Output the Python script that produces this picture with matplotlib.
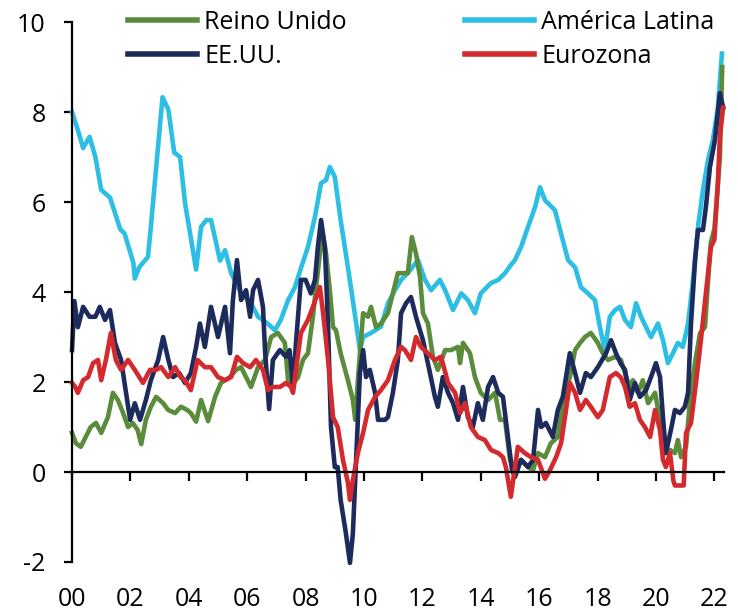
import matplotlib
matplotlib.use('Agg')
from matplotlib import pyplot as plt

plt.rcParams['font.family'] = ['Open Sans', 'DejaVu Sans']
plt.rcParams['axes.unicode_minus'] = False

# Inflación (% a/a)
uk_x = [2000.0, 2000.13, 2000.3, 2000.47, 2000.64, 2000.82, 2001.0, 2001.23, 2001.4, 2001.57,
        2001.75, 2001.92, 2002.08, 2002.25, 2002.37, 2002.53, 2002.7, 2002.88, 2003.12, 2003.29,
        2003.53, 2003.73, 2003.94, 2004.07, 2004.25, 2004.42, 2004.66, 2004.9, 2005.1, 2005.41,
        2005.62, 2005.79, 2005.96, 2006.13, 2006.37, 2006.61, 2006.82, 2007.05, 2007.29, 2007.4,
        2007.5, 2007.74, 2007.91, 2008.08, 2008.25, 2008.36, 2008.49, 2008.6, 2008.7, 2008.84,
        2008.94, 2009.04, 2009.2, 2009.45, 2009.62, 2009.7, 2009.79, 2009.97, 2010.14, 2010.24,
        2010.41, 2010.58, 2010.82, 2010.99, 2011.16, 2011.33, 2011.5, 2011.64, 2011.78, 2011.92,
        2012.02, 2012.19, 2012.36, 2012.53, 2012.78, 2012.98, 2013.22, 2013.29, 2013.39, 2013.63,
        2013.8, 2014.0, 2014.25, 2014.49, 2014.66, 2014.83, 2015.0, 2015.17, 2015.38, 2015.62,
        2015.79, 2015.96, 2016.2, 2016.4, 2016.64, 2016.88, 2017.05, 2017.23, 2017.4, 2017.57,
        2017.77, 2018.01, 2018.18, 2018.36, 2018.6, 2018.8, 2018.94, 2019.1, 2019.21, 2019.38,
        2019.55, 2019.73, 2019.97, 2020.14, 2020.31, 2020.48, 2020.65, 2020.75, 2020.86, 2021.03,
        2021.2, 2021.37, 2021.51, 2021.68, 2021.78, 2021.88, 2022.0, 2022.1, 2022.19, 2022.27]
uk_y = [0.87, 0.64, 0.56, 0.78, 1.0, 1.09, 0.87, 1.22, 1.76, 1.6,
        1.31, 1.0, 1.09, 0.93, 0.62, 1.16, 1.45, 1.67, 1.53, 1.38,
        1.31, 1.45, 1.38, 1.31, 1.12, 1.6, 1.13, 1.67, 1.98, 2.11,
        2.27, 2.33, 2.11, 1.89, 2.33, 2.49, 3.0, 3.09, 2.87, 2.04,
        1.89, 2.11, 2.49, 2.64, 3.45, 4.11, 4.86, 5.22, 4.86, 3.97,
        3.22, 3.15, 2.64, 2.04, 1.6, 1.16, 2.04, 3.53, 3.45, 3.67,
        3.22, 3.3, 3.53, 3.97, 4.42, 4.42, 4.42, 5.22, 4.86, 4.33,
        3.53, 3.3, 2.56, 2.27, 2.71, 2.71, 2.78, 2.42, 2.87, 2.64,
        2.11, 1.76, 1.6, 1.76, 1.16, 1.16, 0.27, 0.04, 0.27, 0.11,
        0.04, 0.42, 0.33, 0.64, 0.78, 1.76, 2.11, 2.71, 2.87, 3.0,
        3.09, 2.87, 2.64, 2.49, 2.56, 2.49, 2.2, 1.89, 2.04, 1.76,
        2.04, 1.53, 1.76, 1.16, 0.42, 0.49, 0.42, 0.71, 0.33, 0.56,
        1.82, 2.56, 3.09, 3.22, 4.2, 5.1, 5.4, 6.2, 7.0, 9.0]

latam_x = [2000.0, 2000.2, 2000.38, 2000.6, 2000.8, 2001.0, 2001.3, 2001.65, 2001.8, 2002.1,
           2002.15, 2002.3, 2002.6, 2002.7, 2002.9, 2003.1, 2003.3, 2003.5, 2003.7, 2003.87,
           2004.07, 2004.25, 2004.42, 2004.6, 2004.76, 2005.07, 2005.24, 2005.45, 2005.8, 2006.13,
           2006.37, 2006.7, 2006.95, 2007.15, 2007.4, 2007.63, 2007.85, 2008.08, 2008.32, 2008.53,
           2008.7, 2008.83, 2009.0, 2009.2, 2009.45, 2009.7, 2009.86, 2009.97, 2010.24, 2010.58,
           2010.82, 2011.06, 2011.27, 2011.5, 2011.85, 2012.09, 2012.3, 2012.6, 2012.78, 2013.05,
           2013.33, 2013.56, 2013.8, 2014.0, 2014.35, 2014.6, 2014.83, 2015.03, 2015.17, 2015.38,
           2015.62, 2015.86, 2016.03, 2016.2, 2016.54, 2016.75, 2016.99, 2017.23, 2017.43, 2017.67,
           2017.91, 2018.08, 2018.25, 2018.42, 2018.6, 2018.77, 2018.94, 2019.14, 2019.32, 2019.49,
           2019.66, 2019.83, 2020.07, 2020.24, 2020.41, 2020.58, 2020.75, 2020.92, 2021.1, 2021.27,
           2021.44, 2021.61, 2021.78, 2021.95, 2022.12, 2022.26]
latam_y = [8.0, 7.6, 7.2, 7.45, 7.0, 6.27, 6.1, 5.4, 5.3, 4.65,
           4.3, 4.55, 4.78, 5.45, 6.9, 8.33, 8.05, 7.1, 7.0, 5.98,
           5.2, 4.5, 5.45, 5.6, 5.6, 4.7, 4.93, 4.42, 3.97, 3.75,
           3.45, 3.3, 3.15, 3.38, 3.82, 4.1, 4.55, 5.0, 5.67, 6.42,
           6.49, 6.78, 6.56, 5.6, 4.55, 3.45, 2.71, 3.0, 3.09, 3.23,
           3.75, 4.04, 4.27, 4.42, 4.71, 4.27, 4.04, 4.27, 4.04, 3.6,
           3.97, 3.82, 3.53, 3.97, 4.2, 4.27, 4.42, 4.6, 4.71, 5.0,
           5.45, 5.89, 6.33, 6.04, 5.82, 5.3, 4.71, 4.55, 4.11, 3.97,
           3.82, 3.22, 2.71, 3.45, 3.6, 3.67, 3.38, 3.22, 3.75, 3.45,
           3.22, 3.0, 3.3, 2.93, 2.42, 2.64, 2.87, 2.78, 3.3, 4.27,
           5.45, 6.27, 6.93, 7.38, 8.1, 9.3]

us_x = [2000.0, 2000.08, 2000.2, 2000.38, 2000.6, 2000.8, 2000.95, 2001.13, 2001.3, 2001.47,
        2001.68, 2001.85, 2001.99, 2002.15, 2002.33, 2002.53, 2002.7, 2002.95, 2003.12, 2003.3,
        2003.46, 2003.67, 2003.87, 2004.07, 2004.25, 2004.38, 2004.55, 2004.76, 2005.0, 2005.24,
        2005.41, 2005.51, 2005.65, 2005.79, 2005.96, 2006.1, 2006.2, 2006.37, 2006.54, 2006.61,
        2006.75, 2006.88, 2007.12, 2007.33, 2007.45, 2007.57, 2007.67, 2007.84, 2008.0, 2008.18,
        2008.32, 2008.42, 2008.53, 2008.66, 2008.77, 2008.87, 2009.0, 2009.1, 2009.2, 2009.38,
        2009.52, 2009.62, 2009.73, 2009.86, 2009.97, 2010.07, 2010.2, 2010.38, 2010.48, 2010.72,
        2010.82, 2010.99, 2011.16, 2011.27, 2011.44, 2011.61, 2011.78, 2012.02, 2012.26, 2012.43,
        2012.53, 2012.7, 2012.88, 2013.05, 2013.22, 2013.39, 2013.56, 2013.73, 2013.9, 2014.07,
        2014.25, 2014.42, 2014.6, 2014.76, 2014.93, 2015.07, 2015.17, 2015.38, 2015.62, 2015.79,
        2015.96, 2016.07, 2016.23, 2016.47, 2016.64, 2016.81, 2017.05, 2017.23, 2017.4, 2017.6,
        2017.77, 2018.01, 2018.29, 2018.46, 2018.63, 2018.8, 2018.94, 2019.1, 2019.28, 2019.45,
        2019.66, 2019.83, 2020.0, 2020.14, 2020.24, 2020.34, 2020.51, 2020.65, 2020.82, 2020.99,
        2021.1, 2021.2, 2021.34, 2021.44, 2021.61, 2021.71, 2021.85, 2022.02, 2022.19, 2022.3]
us_y = [2.71, 3.8, 3.22, 3.67, 3.45, 3.45, 3.67, 3.38, 3.6, 2.87,
        2.49, 1.76, 1.16, 1.53, 1.16, 1.6, 2.04, 2.49, 3.0, 2.49,
        2.11, 2.2, 1.98, 2.2, 2.78, 3.3, 2.78, 3.67, 3.0, 3.67,
        2.64, 3.82, 4.71, 3.82, 4.04, 3.45, 4.04, 4.27, 3.67, 2.71,
        1.4, 2.49, 2.71, 2.56, 2.71, 1.89, 2.87, 4.27, 4.27, 3.97,
        4.27, 5.0, 5.6, 5.0, 3.22, 1.0, 0.11, 0.11, -0.62, -1.36,
        -2.02, -1.36, 0.27, 2.2, 2.71, 2.11, 2.27, 1.76, 1.16, 1.16,
        1.22, 1.76, 2.49, 3.53, 3.75, 3.89, 3.45, 2.93, 2.2, 1.67,
        1.45, 2.11, 1.76, 1.53, 1.16, 1.89, 1.22, 1.0, 1.53, 1.16,
        1.89, 2.11, 1.76, 1.67, 0.78, 0.04, -0.11, 0.27, 0.11, 0.27,
        1.38, 1.0, 1.09, 0.78, 1.38, 1.67, 2.64, 2.2, 1.76, 2.2,
        2.11, 2.33, 2.64, 2.93, 2.64, 2.4, 2.27, 1.6, 1.98, 1.67,
        1.82, 2.11, 2.42, 2.11, 1.22, 0.42, 0.93, 1.38, 1.31, 1.45,
        1.76, 3.3, 4.71, 5.38, 5.38, 5.89, 6.78, 7.38, 8.42, 8.1]

ez_x = [2000.0, 2000.1, 2000.2, 2000.38, 2000.55, 2000.72, 2000.89, 2001.0, 2001.16, 2001.33,
        2001.5, 2001.68, 2001.92, 2002.15, 2002.43, 2002.67, 2002.88, 2003.05, 2003.3, 2003.53,
        2003.73, 2003.87, 2004.07, 2004.3, 2004.55, 2004.76, 2005.0, 2005.24, 2005.45, 2005.65,
        2005.86, 2006.1, 2006.3, 2006.54, 2006.71, 2006.88, 2007.12, 2007.33, 2007.5, 2007.57,
        2007.67, 2007.84, 2008.08, 2008.25, 2008.49, 2008.6, 2008.77, 2008.94, 2009.1, 2009.28,
        2009.45, 2009.52, 2009.62, 2009.79, 2009.97, 2010.14, 2010.38, 2010.58, 2010.82, 2011.06,
        2011.27, 2011.4, 2011.61, 2011.78, 2011.95, 2012.19, 2012.43, 2012.64, 2012.88, 2013.12,
        2013.29, 2013.46, 2013.66, 2013.9, 2014.14, 2014.35, 2014.6, 2014.76, 2014.86, 2015.03,
        2015.27, 2015.51, 2015.72, 2015.96, 2016.2, 2016.37, 2016.58, 2016.75, 2016.92, 2017.05,
        2017.23, 2017.4, 2017.6, 2017.77, 2018.01, 2018.18, 2018.42, 2018.63, 2018.8, 2018.94,
        2019.1, 2019.28, 2019.45, 2019.62, 2019.8, 2019.97, 2020.14, 2020.24, 2020.34, 2020.48,
        2020.6, 2020.65, 2020.95, 2021.03, 2021.2, 2021.37, 2021.54, 2021.71, 2021.88, 2022.0,
        2022.12, 2022.19, 2022.3]
ez_y = [1.98, 1.9, 1.76, 2.04, 2.11, 2.42, 2.49, 2.04, 2.49, 3.09,
        2.49, 2.27, 2.49, 2.27, 1.98, 2.27, 2.27, 2.33, 2.11, 2.33,
        2.1, 2.04, 1.82, 2.49, 2.33, 2.33, 2.11, 2.04, 2.11, 2.56,
        2.42, 2.33, 2.49, 2.27, 1.82, 1.89, 1.89, 1.98, 1.89, 1.76,
        2.27, 3.09, 3.38, 3.67, 4.11, 3.53, 2.49, 1.22, 1.0, 0.27,
        -0.24, -0.62, -0.18, 0.42, 0.87, 1.38, 1.67, 1.82, 2.04, 2.49,
        2.78, 2.71, 2.49, 3.0, 2.78, 2.64, 2.49, 2.56, 1.98, 1.76,
        1.31, 1.53, 1.0, 0.78, 0.71, 0.49, 0.42, 0.33, 0.11, -0.55,
        0.56, 0.42, 0.33, 0.27, -0.15, 0.04, 0.33, 0.64, 1.38, 1.98,
        1.76, 1.38, 1.6, 1.45, 1.22, 1.38, 2.11, 2.2, 2.1, 1.89,
        1.45, 1.53, 1.16, 1.0, 0.78, 1.38, 0.93, 0.27, 0.11, 0.42,
        -0.2, -0.3, -0.3, 0.87, 1.09, 1.98, 2.93, 3.97, 5.0, 5.16,
        6.42, 7.45, 8.1]

c_uk = '#5a8c3c'
c_latam = '#2dbee4'
c_us = '#1c2b5c'
c_ez = '#d42a2e'

fig = plt.figure(figsize=(7.38, 6.13), dpi=100)
ax = fig.add_axes([0.0976, 0.0832, 0.8834, 0.8808])

lw = 3.3
h_latam, = ax.plot(latam_x, latam_y, color=c_latam, lw=lw, clip_on=False)
h_uk, = ax.plot(uk_x, uk_y, color=c_uk, lw=lw, clip_on=False)
h_us, = ax.plot(us_x, us_y, color=c_us, lw=lw, clip_on=False)
h_ez, = ax.plot(ez_x, ez_y, color=c_ez, lw=lw, clip_on=False)

ax.set_xlim(2000, 2022.33)
ax.set_ylim(-2, 10)

years = list(range(2000, 2023, 2))
ax.set_xticks(years)
ax.set_xticklabels(['%02d' % (y % 100) for y in years])
ax.set_yticks([-2, 0, 2, 4, 6, 8, 10])

for s in ['top', 'right']:
    ax.spines[s].set_visible(False)
ax.spines['bottom'].set_position(('data', 0))
ax.spines['bottom'].set_linewidth(1.6)
ax.spines['left'].set_linewidth(1.6)

ax.tick_params(axis='x', direction='out', length=6.5, width=1.6, pad=76, labelsize=18)
ax.tick_params(axis='y', direction='out', length=6, width=1.6, pad=13, labelsize=18)

leg_kw = dict(frameon=False, fontsize=18, handlelength=2.75, handletextpad=0.3,
              labelspacing=0.36, borderpad=0, borderaxespad=0,
              bbox_transform=fig.transFigure)
leg1 = ax.legend([h_uk, h_us], ['Reino Unido', 'EE.UU.'], loc='upper left',
                 bbox_to_anchor=(128 / 738, 1 - 10 / 613), **leg_kw)
ax.add_artist(leg1)
leg2 = ax.legend([h_latam, h_ez], ['América Latina', 'Eurozona'], loc='upper left',
                 bbox_to_anchor=(465 / 738, 1 - 10 / 613), **leg_kw)
for lg in (leg1, leg2):
    for ln in lg.get_lines():
        ln.set_linewidth(4)

fig.savefig('out.png', dpi=100)
